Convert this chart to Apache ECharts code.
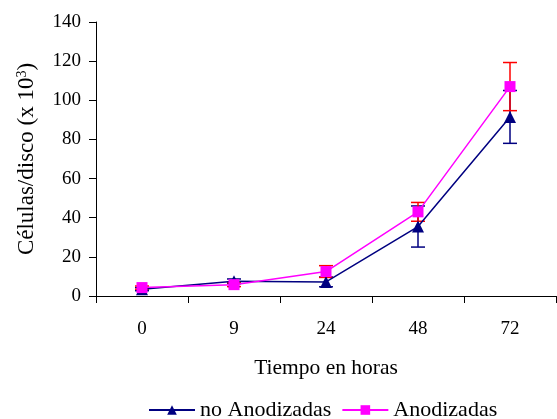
<!DOCTYPE html>
<html>
<head>
<meta charset="utf-8">
<script src="https://cdn.jsdelivr.net/npm/echarts@6/dist/echarts.min.js"></script>
<style>html,body{margin:0;padding:0;background:#fff}#c{width:557px;height:419px}</style>
</head>
<body>
<div id="c"></div>
<script>
var categories = ['0', '9', '24', '48', '72'];
var noAnodizadas = [3.5, 7.5, 7.2, 35.5, 91.5];
var noAnodizadasErr = [0.8, 1.2, 2.5, 10.5, 13.5];
var anodizadas = [4.3, 5.8, 12.5, 43, 107];
var anodizadasErr = [0.8, 1.0, 3.0, 4.8, 12.3];
var yTicks = [0, 20, 40, 60, 80, 100, 120, 140];

var FONT = 'Liberation Serif';

function errData(vals, errs) {
  return vals.map(function (v, i) { return [i, v - errs[i], v + errs[i]]; });
}
function errRender(color) {
  return function (params, api) {
    var x = api.value(0);
    var lo = api.coord([x, api.value(1)]);
    var hi = api.coord([x, api.value(2)]);
    var w = 7;
    var st = { stroke: color, lineWidth: 1.5 };
    return {
      type: 'group',
      children: [
        { type: 'line', shape: { x1: lo[0], y1: lo[1], x2: hi[0], y2: hi[1] }, style: st },
        { type: 'line', shape: { x1: lo[0] - w, y1: lo[1], x2: lo[0] + w, y2: lo[1] }, style: st },
        { type: 'line', shape: { x1: hi[0] - w, y1: hi[1], x2: hi[0] + w, y2: hi[1] }, style: st }
      ]
    };
  };
}

var chart = echarts.init(document.getElementById('c'));
chart.setOption({
  animation: false,
  textStyle: { fontFamily: FONT },
  grid: { left: 96, right: 1, top: 22, bottom: 123, containLabel: false },
  legend: {
    bottom: -7,
    left: 143,
    itemWidth: 46,
    itemHeight: 12,
    itemGap: 10,
    textStyle: { fontFamily: FONT, fontSize: 22, color: '#000' },
    data: ['no Anodizadas', 'Anodizadas']
  },
  xAxis: {
    type: 'category',
    data: categories,
    boundaryGap: true,
    name: 'Tiempo en horas',
    nameLocation: 'middle',
    nameGap: 61,
    nameTextStyle: { fontFamily: FONT, fontSize: 21.5, color: '#000' },
    axisLine: { lineStyle: { color: '#000', width: 1 } },
    axisTick: { show: true, length: 7, lineStyle: { color: '#000' } },
    axisLabel: { fontFamily: FONT, fontSize: 19, color: '#000', margin: 24 }
  },
  yAxis: {
    type: 'value',
    min: 0,
    max: 140,
    interval: 20,
    name: '{a|Células/disco (x 10}{s|3}{a|)}',
    nameLocation: 'middle',
    nameRotate: 90,
    nameGap: 57,
    nameTextStyle: {
      rich: {
        a: { fontFamily: FONT, fontSize: 23, color: '#000' },
        s: { fontFamily: FONT, fontSize: 14, color: '#000', verticalAlign: 'top', padding: [0, 0, 10, 0] }
      }
    },
    splitLine: { show: false },
    axisLine: { show: true, lineStyle: { color: '#000', width: 1 } },
    axisTick: { show: true, length: 7, lineStyle: { color: '#000' } },
    axisLabel: {
      fontFamily: FONT, fontSize: 19, color: '#000', margin: 15,
      formatter: function (v) { return yTicks.indexOf(v) >= 0 ? String(v) : ''; }
    }
  },
  series: [
    {
      name: 'no Anodizadas',
      type: 'line',
      data: noAnodizadas,
      symbol: 'triangle',
      symbolSize: 12,
      lineStyle: { color: '#000080', width: 1.5 },
      itemStyle: { color: '#000080' },
      z: 3
    },
    {
      name: 'Anodizadas',
      type: 'line',
      data: anodizadas,
      symbol: 'rect',
      symbolSize: 11,
      lineStyle: { color: '#FF00FF', width: 1.5 },
      itemStyle: { color: '#FF00FF' },
      z: 4
    },
    {
      type: 'custom',
      name: 'errA',
      data: errData(noAnodizadas, noAnodizadasErr),
      renderItem: errRender('#000080'),
      encode: { x: 0, y: [1, 2] },
      z: 2
    },
    {
      type: 'custom',
      name: 'errB',
      data: errData(anodizadas, anodizadasErr),
      renderItem: errRender('#FF0000'),
      encode: { x: 0, y: [1, 2] },
      z: 2
    }
  ]
});
</script>
</body>
</html>
